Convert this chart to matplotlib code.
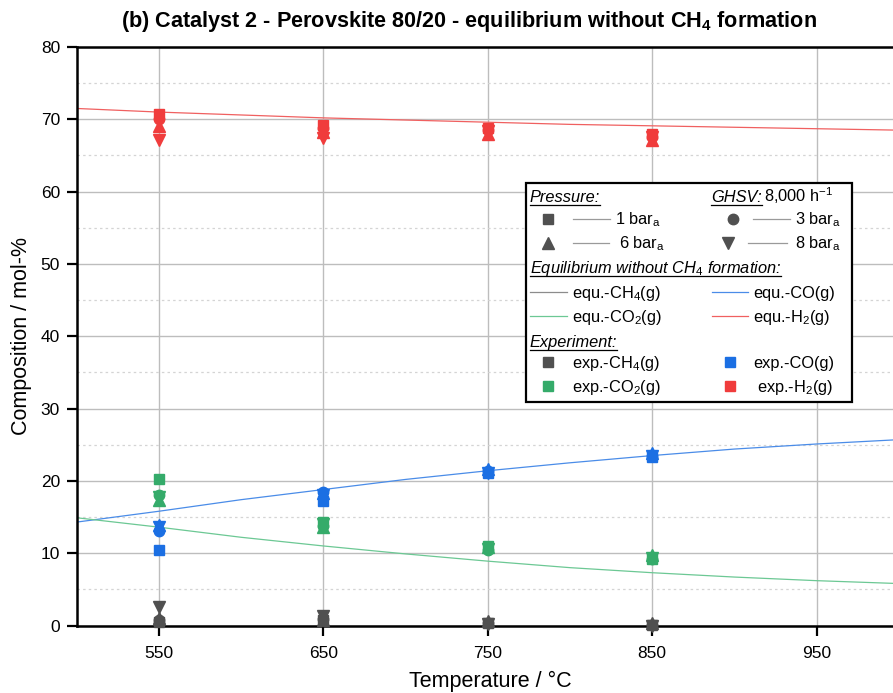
import matplotlib
matplotlib.use("Agg")
import matplotlib.pyplot as plt
from matplotlib.lines import Line2D
from matplotlib.patches import Rectangle
from matplotlib.ticker import MultipleLocator

plt.rcParams['font.family'] = ['Liberation Sans', 'DejaVu Sans']
plt.rcParams['mathtext.fontset'] = 'custom'
plt.rcParams['mathtext.rm'] = 'Liberation Sans'
plt.rcParams['mathtext.it'] = 'Liberation Sans:italic'
plt.rcParams['mathtext.bf'] = 'Liberation Sans:bold'

# ---- experimental data (mol-%) at each temperature, per pressure in bar_a ----
temps = [550, 650, 750, 850]
pressures = [1, 3, 6, 8]
markers = {1: 's', 3: 'o', 6: '^', 8: 'v'}

exp_ch4 = {1: [0.5, 0.7, 0.3, 0.1], 3: [0.7, 0.9, 0.3, 0.1],
           6: [1.0, 0.8, 0.6, 0.3], 8: [2.5, 1.3, 0.2, 0.0]}
exp_co = {1: [10.4, 17.2, 21.1, 23.3], 3: [13.0, 18.5, 21.3, 23.5],
          6: [13.9, 18.3, 21.6, 23.8], 8: [13.6, 18.0, 21.1, 23.4]}
exp_co2 = {1: [20.3, 14.3, 11.0, 9.2], 3: [18.1, 13.7, 10.4, 9.2],
           6: [17.4, 13.6, 10.8, 9.8], 8: [17.8, 14.0, 10.6, 9.4]}
exp_h2 = {1: [70.7, 69.2, 68.8, 67.9], 3: [70.0, 68.8, 68.5, 67.6],
          6: [69.1, 68.2, 68.0, 67.1], 8: [67.1, 67.4, 68.4, 67.6]}

# ---- equilibrium without CH4 formation ----
eq_temps = [500, 550, 600, 650, 700, 750, 800, 850, 900, 950, 1000]
eq_ch4 = [0.0] * len(eq_temps)
eq_co = [14.3, 15.8, 17.4, 18.8, 20.2, 21.4, 22.5, 23.5, 24.4, 25.1, 25.7]
eq_co2 = [14.9, 13.6, 12.2, 11.0, 9.9, 8.9, 8.0, 7.3, 6.7, 6.2, 5.8]
eq_h2 = [71.5, 71.0, 70.6, 70.2, 69.9, 69.6, 69.3, 69.1, 68.9, 68.7, 68.5]

x_ticks = [550, 650, 750, 850, 950]

c_ch4 = '#505050'
c_co = '#1b6fe3'
c_co2 = '#35ab6a'
c_h2 = '#f03c3c'
c_eq_ch4 = '#8c8c8c'
c_eq_co = '#4a8ce8'
c_eq_co2 = '#6cc894'
c_eq_h2 = '#f06060'

W, H = 893, 693
fig = plt.figure(figsize=(W / 100, H / 100), dpi=100)


def fx(x):
    return x / W


def fy(y):
    return 1 - y / H


ax = fig.add_axes([fx(76.7), fy(625.5), 1 - fx(76.7), fy(47) - fy(625.5)])
ax.set_xlim(500, 996.5)
ax.set_ylim(0, 80)

# grid
ax.set_xticks(x_ticks)
ax.yaxis.set_major_locator(MultipleLocator(10))
ax.yaxis.set_minor_locator(MultipleLocator(5))
ax.grid(True, which='major', axis='both', color='#bdbdbd', lw=1.0, zorder=0)
ax.grid(True, which='minor', axis='y', color='#d4d4d4', lw=0.9,
        linestyle=(0, (2, 2.5)), zorder=0)
ax.set_axisbelow(True)

# equilibrium lines
ax.plot(eq_temps, eq_ch4, color=c_eq_ch4, lw=0.8, zorder=2)
ax.plot(eq_temps, eq_co, color=c_eq_co, lw=0.9, zorder=2)
ax.plot(eq_temps, eq_co2, color=c_eq_co2, lw=0.9, zorder=2)
ax.plot(eq_temps, eq_h2, color=c_eq_h2, lw=0.9, zorder=2)

# experimental points
msize = {1: 7.2, 3: 7.5, 6: 8.0, 8: 8.0}
for series, col in [(exp_ch4, c_ch4), (exp_co, c_co), (exp_co2, c_co2), (exp_h2, c_h2)]:
    for p in pressures:
        ax.plot(temps, series[p], linestyle='none', marker=markers[p],
                ms=msize[p], color=col, mec=col, zorder=3, clip_on=False)

for side in ['left', 'bottom', 'top']:
    ax.spines[side].set_linewidth(1.8)
    ax.spines[side].set_color('black')
ax.spines['right'].set_visible(False)

ax.tick_params(axis='both', which='major', direction='out', length=7, width=1.6,
               labelsize=12.5, pad=5)
ax.tick_params(axis='y', which='minor', length=0)
ax.tick_params(axis='x', pad=8)

fig.text(fx(490), fy(681), 'Temperature / °C', fontsize=15.5, ha='center', va='center')
fig.text(fx(22), fy(336), 'Composition / mol-%', fontsize=15.5, ha='center', va='center',
         rotation=90)

fig.text(fx(469), fy(22), r'(b) Catalyst 2 - Perovskite 80/20 - equilibrium without CH$_\mathbf{4}$ formation',
         fontsize=15.6, fontweight='bold', ha='center', va='center')

# ---- legend box ----
fig.patches.append(Rectangle((fx(526), fy(402)), fx(852) - fx(526), fy(183) - fy(402),
                             transform=fig.transFigure, facecolor='white',
                             edgecolor='black', lw=1.6, zorder=5))

renderer = fig.canvas.get_renderer()
fs = 11.8


def ltext(x, y, s, italic=False, underline=False, size=fs):
    t = fig.text(fx(x), fy(y), s, fontsize=size, ha='left', va='baseline',
                 style='italic' if italic else 'normal', zorder=6)
    if underline:
        bb = t.get_window_extent(renderer)
        fig.add_artist(Line2D([bb.x0 / W, bb.x1 / W], [fy(y + 2.5), fy(y + 2.5)],
                              transform=fig.transFigure, color='black', lw=0.9, zorder=6))
    return t


def lline(x0, x1, y, col, lw=0.9):
    fig.add_artist(Line2D([fx(x0), fx(x1)], [fy(y), fy(y)], transform=fig.transFigure,
                          color=col, lw=lw, zorder=6))


def lmark(x, y, m, col, ms):
    fig.add_artist(Line2D([fx(x)], [fy(y)], transform=fig.transFigure, marker=m,
                          ms=ms, color=col, mec=col, linestyle='none', zorder=6))


ltext(530, 202, 'Pressure:', italic=True, underline=True)
ltext(711, 202, 'GHSV:', italic=True, underline=True)
ltext(764, 202, r'8,000 h$^{-1}$')

lmark(548, 219, 's', c_ch4, 7.0)
lline(573, 610, 219, '#9a9a9a')
ltext(615, 224, r'1 bar$_\mathrm{a}$')
lmark(733, 219, 'o', c_ch4, 7.5)
lline(753, 790, 219, '#9a9a9a')
ltext(795, 224, r'3 bar$_\mathrm{a}$')

lmark(548, 243, '^', c_ch4, 8.0)
lline(573, 609, 243, '#9a9a9a')
ltext(619, 248, r'6 bar$_\mathrm{a}$')
lmark(728, 243, 'v', c_ch4, 8.0)
lline(748, 787, 243, '#9a9a9a')
ltext(795, 248, r'8 bar$_\mathrm{a}$')

ltext(530, 273, r'Equilibrium without CH$_\mathit{4}$ formation:', italic=True, underline=True)

lline(530, 567, 292, c_eq_ch4)
ltext(572, 298, r'equ.-CH$_\mathrm{4}$(g)')
lline(712, 748, 292, c_eq_co)
ltext(753, 298, r'equ.-CO(g)')

lline(530, 567, 316, c_eq_co2)
ltext(572, 322, r'equ.-CO$_\mathrm{2}$(g)')
lline(712, 748, 316, c_eq_h2)
ltext(753, 322, r'equ.-H$_\mathrm{2}$(g)')

ltext(530, 347, 'Experiment:', italic=True, underline=True)

lmark(548, 362, 's', c_ch4, 7.0)
ltext(572, 368, r'exp.-CH$_\mathrm{4}$(g)')
lmark(730, 362, 's', c_co, 7.0)
ltext(753, 368, r'exp.-CO(g)')

lmark(548, 386, 's', c_co2, 7.0)
ltext(572, 392, r'exp.-CO$_\mathrm{2}$(g)')
lmark(730, 386, 's', c_h2, 7.0)
ltext(757, 392, r'exp.-H$_\mathrm{2}$(g)')

fig.savefig('out.png', dpi=100)
